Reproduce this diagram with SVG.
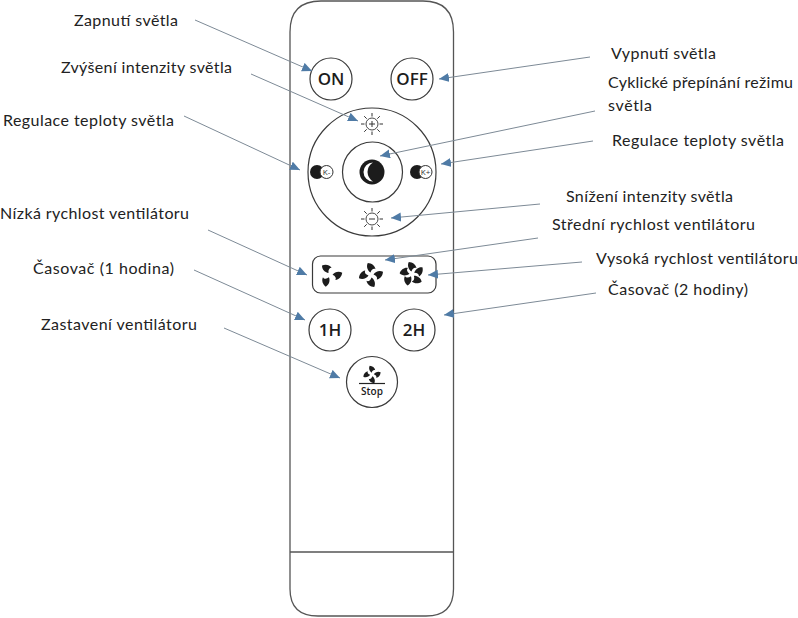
<svg xmlns="http://www.w3.org/2000/svg" width="798" height="618" viewBox="0 0 798 618">
<style>
.o{fill:none;stroke:#555;stroke-width:1.300}
.b{fill:#fff;stroke:#3a3a3a;stroke-width:1.200}
.l{font-family:"Lato","Noto Sans",sans-serif;font-size:16px;fill:#222}
.k{font-family:"Open Sans","Noto Sans",sans-serif;font-weight:600;fill:#1c1c1c;text-anchor:middle}
.c line{stroke:#7d8a96;stroke-width:1;marker-end:url(#a)}
.s{stroke:#333;stroke-width:1;fill:none}
.f{fill:#1c1c1c}
</style>
<defs>
<marker id="a" markerUnits="userSpaceOnUse" markerWidth="11" markerHeight="10" refX="10" refY="4.500" orient="auto"><path d="M0 0L10 4.500L0 9Z" fill="#4f7ba6"/></marker>
<path id="bl" d="M-.5-2.500C-3.500-4.500-5-8.500-3.200-12C.5-11.800 4-9.500 4.500-5.800C2.500-6.800 .5-5.500-.5-2.500Z"/>
<g id="sun"><circle r="6" fill="#fff" stroke="#333" stroke-width=".9"/><path class="s" d="M0-7.500V-11M0 7.500V11M-7.500 0H-11M7.500 0H11M-5.300-5.300L-7.800-7.800M5.300-5.300L7.800-7.800M-5.300 5.300L-7.800 7.800M5.300 5.300L7.800 7.800"/></g>
</defs>
<g id="body"><path class="o" d="M290 32Q290 1 321 1H423Q453.500 1 453.500 32V589Q453.500 616 426 616H318Q290 616 290 589Z"/><path class="o" d="M290 552H453.500"/></g>
<g id="on"><circle class="b" cx="331" cy="79" r="21"/><text class="k" x="331" y="85" font-size="17">ON</text></g>
<g id="off"><circle class="b" cx="412" cy="79" r="21"/><text class="k" x="412" y="85" font-size="17">OFF</text></g>
<g id="dial"><circle class="b" cx="372" cy="172" r="64"/><circle class="b" cx="372.500" cy="172" r="30"/></g>
<g id="mode"><circle class="f" cx="372" cy="172" r="12.500"/><path d="M373 162.500A9.500 9.500 0 0 0 373 181.500A12 12 0 0 1 367.500 172A12 12 0 0 1 373 162.500Z" fill="#fff"/></g>
<g id="sun-up"><use href="#sun" x="372" y="124"/><path class="s" d="M369 124H375M372 121V127"/></g>
<g id="sun-down"><use href="#sun" x="372" y="219"/><path class="s" d="M369 219H375"/></g>
<g id="k-minus"><circle class="f" cx="317" cy="172" r="7"/><circle cx="326.500" cy="172" r="6.500" fill="#fff" stroke="#333"/><text x="326.500" y="175" font-size="8" font-family="Open Sans" text-anchor="middle" fill="#333">K-</text></g>
<g id="k-plus"><circle class="f" cx="417" cy="172" r="7"/><circle cx="425.500" cy="172" r="6.500" fill="#fff" stroke="#333"/><text x="425.500" y="175" font-size="8" font-family="Open Sans" text-anchor="middle" fill="#333">K+</text></g>
<g id="fan-box"><rect class="b" x="312.500" y="256" width="123.500" height="37" rx="8"/></g>
<g id="fan-low" class="f" transform="translate(330 275)"><use href="#bl" transform="rotate(-25)"/><use href="#bl" transform="rotate(95)"/><use href="#bl" transform="rotate(215)"/></g>
<g id="fan-mid" class="f" transform="translate(371 275)"><use href="#bl"/><use href="#bl" transform="rotate(90)"/><use href="#bl" transform="rotate(180)"/><use href="#bl" transform="rotate(270)"/></g>
<g id="fan-high" class="f" transform="translate(412 274)"><use href="#bl"/><use href="#bl" transform="rotate(72)"/><use href="#bl" transform="rotate(144)"/><use href="#bl" transform="rotate(216)"/><use href="#bl" transform="rotate(288)"/></g>
<g id="h1"><circle class="b" cx="330" cy="330" r="21"/><text class="k" x="330" y="336" font-size="17">1H</text></g>
<g id="h2"><circle class="b" cx="414" cy="330" r="21"/><text class="k" x="414" y="336" font-size="17">2H</text></g>
<g id="stop"><circle class="b" cx="372" cy="382" r="25.500"/><g class="f" transform="translate(372 374.500) scale(.72)"><use href="#bl"/><use href="#bl" transform="rotate(90)"/><use href="#bl" transform="rotate(180)"/><use href="#bl" transform="rotate(270)"/></g><path d="M359 383.500H385" stroke="#222" stroke-width="1.200"/><text class="k" x="372" y="394.500" font-size="10">Stop</text></g>
<g id="connectors" class="c">
<line x1="195" y1="20" x2="312" y2="71"/>
<line x1="251" y1="74" x2="358" y2="121"/>
<line x1="184" y1="116" x2="300" y2="170"/>
<line x1="208" y1="230" x2="307" y2="275"/>
<line x1="194" y1="270" x2="305" y2="320"/>
<line x1="224" y1="328" x2="340" y2="378"/>
<line x1="590" y1="57" x2="439" y2="79"/>
<line x1="595" y1="111" x2="380" y2="156"/>
<line x1="593" y1="141" x2="441" y2="164"/>
<line x1="540" y1="204" x2="391" y2="218"/>
<line x1="538" y1="238" x2="385" y2="260"/>
<line x1="582" y1="262" x2="428" y2="275"/>
<line x1="596" y1="293" x2="444" y2="315"/>
</g>
<g id="labels">
<text class="l" x="74" y="26" textLength="104">Zapnutí světla</text>
<text class="l" x="61" y="73" textLength="171">Zvýšení intenzity světla</text>
<text class="l" x="3" y="126" textLength="171">Regulace teploty světla</text>
<text class="l" x="0" y="219" textLength="189">Nízká rychlost ventilátoru</text>
<text class="l" x="33" y="274" textLength="141">Časovač (1 hodina)</text>
<text class="l" x="41" y="330" textLength="156">Zastavení ventilátoru</text>
<text class="l" x="611" y="59" textLength="105">Vypnutí světla</text>
<text class="l" x="608" y="88" textLength="185">Cyklické přepínání režimu</text>
<text class="l" x="608" y="111" textLength="44">světla</text>
<text class="l" x="612" y="146" textLength="172">Regulace teploty světla</text>
<text class="l" x="566" y="202" textLength="167">Snížení intenzity světla</text>
<text class="l" x="552" y="230" textLength="203">Střední rychlost ventilátoru</text>
<text class="l" x="596" y="264" textLength="202">Vysoká rychlost ventilátoru</text>
<text class="l" x="608" y="295" textLength="140">Časovač (2 hodiny)</text>
</g>
</svg>
